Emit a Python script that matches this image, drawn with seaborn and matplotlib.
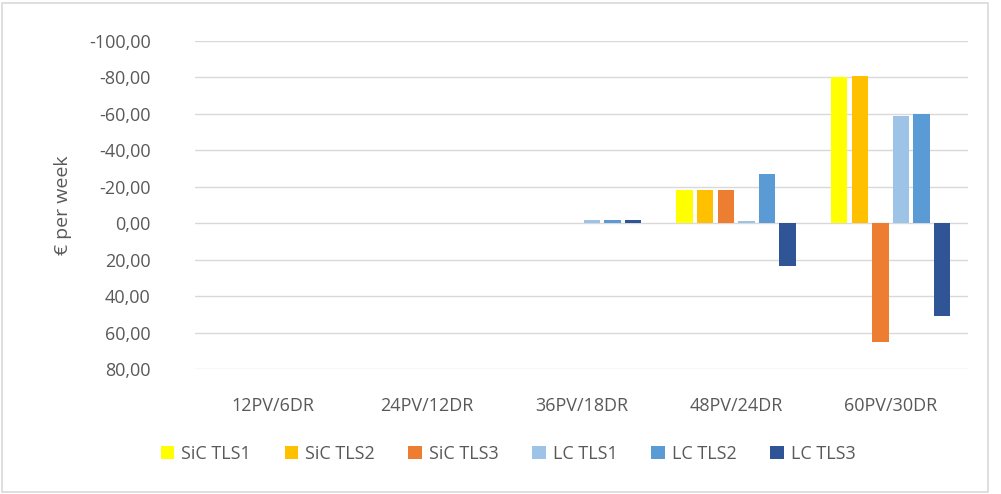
import pandas as pd
import matplotlib.pyplot as plt
import seaborn as sns
from matplotlib.ticker import FuncFormatter, MultipleLocator
from matplotlib.patches import Rectangle

# data (negative = up, axis is reversed)
categories = ["12PV/6DR", "24PV/12DR", "36PV/18DR", "48PV/24DR", "60PV/30DR"]
series = ["SiC TLS1", "SiC TLS2", "SiC TLS3", "LC TLS1", "LC TLS2", "LC TLS3"]
sic_tls1 = [0, 0, 0, -18.0, -80.0]
sic_tls2 = [0, 0, 0, -18.0, -81.0]
sic_tls3 = [0, 0, 0, -18.0, 65.0]
lc_tls1 = [0, 0, -1.5, -1.3, -58.6]
lc_tls2 = [0, 0, -1.5, -27.0, -60.2]
lc_tls3 = [0, 0, -2.0, 23.4, 50.8]
colors = ["#FFFF00", "#FFC000", "#ED7D31", "#9DC3E6", "#5B9BD5", "#2F5597"]

values = [sic_tls1, sic_tls2, sic_tls3, lc_tls1, lc_tls2, lc_tls3]
rows = []
for name, vals in zip(series, values):
    for cat, v in zip(categories, vals):
        rows.append({"category": cat, "series": name, "value": v})
df = pd.DataFrame(rows)

sns.set_style("white")
plt.rcParams["font.family"] = ["Open Sans", "DejaVu Sans"]
txt = "#595959"

fig = plt.figure(figsize=(10.01, 4.94), dpi=100)
ax = fig.add_axes([0.195, 0.253, 0.772, 0.664])

sns.barplot(data=df, x="category", y="value", hue="series", hue_order=series,
            palette=colors, order=categories, ax=ax, gap=0.2, saturation=1,
            linewidth=0, errorbar=None)

ax.set_ylim(80, -100)
ax.yaxis.set_major_locator(MultipleLocator(20))
ax.yaxis.set_major_formatter(FuncFormatter(lambda v, p: f"{v:.2f}".replace(".", ",")))
ax.grid(axis="y", color="#d9d9d9", linewidth=1)
ax.set_axisbelow(True)
for s in ax.spines.values():
    s.set_visible(False)
ax.tick_params(axis="both", length=0, colors=txt, labelsize=13)
ax.tick_params(axis="y", pad=32)
ax.tick_params(axis="x", pad=20)
ax.set_xlabel("")
ax.set_ylabel("€ per week", color=txt, fontsize=14, labelpad=12)

ax.legend(loc="upper center", bbox_to_anchor=(0.405, -0.182), ncol=6, frameon=False,
          fontsize=13, labelcolor=txt, handlelength=0.75, handleheight=0.75,
          columnspacing=1.85, handletextpad=0.4)

fig.patches.append(Rectangle((0.002, 0.004), 0.985, 0.99, transform=fig.transFigure,
                             fill=False, edgecolor="#d9d9d9", linewidth=1.2))

plt.savefig("out.png", dpi=100)
